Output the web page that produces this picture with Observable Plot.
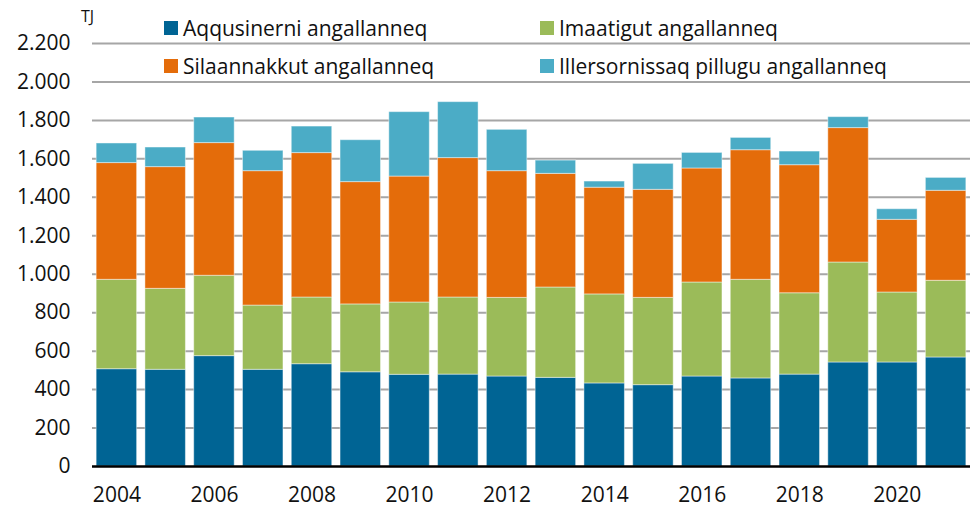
<!DOCTYPE html>
<html>
<head>
<meta charset="utf-8">
<script src="https://cdn.jsdelivr.net/npm/d3@7"></script>
<script src="https://cdn.jsdelivr.net/npm/@observablehq/plot@0.6"></script>
<style>
  html, body { margin: 0; padding: 0; background: #fff; }
  #wrap { position: relative; width: 976px; height: 509px; font-family: "Open Sans", sans-serif; }
  .leg { position: absolute; display: flex; align-items: center; font-size: 21px; color: #111; white-space: nowrap; line-height: 1; }
  .sw { width: 14px; height: 14px; margin-right: 5px; }
  #unit { position: absolute; left: 81px; top: 5px; font-size: 16px; color: #111; }
</style>
</head>
<body>
<div id="wrap"></div>
<script>
const years = [2004,2005,2006,2007,2008,2009,2010,2011,2012,2013,2014,2015,2016,2017,2018,2019,2020,2021];
const seriesNames = ["Aqqusinerni angallanneq","Imaatigut angallanneq","Silaannakkut angallanneq","Illersornissaq pillugu angallanneq"];
const seriesColors = ["#006494","#9BBB59","#E46C0A","#4BACC6"];
const road    = [506,503,574,503,532,490,477,478,468,461,432,423,468,458,478,541,541,567];
const sea     = [465,421,418,334,347,353,376,401,409,470,463,454,489,513,423,520,364,399];
const air     = [607,633,690,699,751,636,655,725,659,591,555,562,593,674,666,699,378,468];
const defence = [102,102,133,106,138,218,335,291,215, 69, 32,135, 81, 64, 71, 57, 55, 67];
const yTicks = [0,200,400,600,800,1000,1200,1400,1600,1800,2000,2200];
const xTickYears = [2004,2006,2008,2010,2012,2014,2016,2018,2020];
const unitLabel = "TJ";

const seriesValues = [road, sea, air, defence];
const table = [];
years.forEach((yr, i) => {
  seriesNames.forEach((s, j) => table.push({year: yr, series: s, value: seriesValues[j][i]}));
});

const fmt = d3.formatLocale({decimal: ",", thousands: ".", grouping: [3], currency: ["", ""]}).format(",");

const chart = Plot.plot({
  width: 976,
  height: 509,
  marginLeft: 92,
  marginRight: 6,
  marginTop: 43,
  marginBottom: 43,
  style: {fontFamily: "Open Sans, sans-serif", fontSize: "21px", color: "#111", background: "#fff"},
  x: {type: "band", domain: years, round: false, paddingInner: 0.17, paddingOuter: 0.085, label: null, tickSize: 0, tickPadding: 21, ticks: xTickYears, tickFormat: d => String(d)},
  y: {domain: [0, 2200], ticks: yTicks, tickFormat: fmt, label: null, tickSize: 0, tickPadding: 22},
  color: {domain: seriesNames, range: seriesColors},
  marks: [
    Plot.ruleY(yTicks.filter(d => d > 0), {stroke: "#a6a6a6", strokeWidth: 2}),
    Plot.barY(table, {x: "year", y: "value", fill: "series", order: seriesNames, stroke: "#ffffff", strokeOpacity: 0.45, strokeWidth: 1}),
    Plot.ruleY([0], {stroke: "#000", strokeWidth: 2.5})
  ]
});

const wrap = document.getElementById("wrap");
wrap.appendChild(chart);

const unit = document.createElement("div");
unit.id = "unit";
unit.textContent = unitLabel;
wrap.appendChild(unit);

const legPos = [[164, 28], [540, 28], [164, 66], [540, 66]];
seriesNames.forEach((s, i) => {
  const d = document.createElement("div");
  d.className = "leg";
  d.style.left = legPos[i][0] + "px";
  d.style.top = (legPos[i][1] - 12) + "px";
  d.style.height = "24px";
  const sw = document.createElement("span");
  sw.className = "sw";
  sw.style.background = seriesColors[i];
  const t = document.createElement("span");
  t.textContent = s;
  d.appendChild(sw);
  d.appendChild(t);
  wrap.appendChild(d);
});
</script>
</body>
</html>
